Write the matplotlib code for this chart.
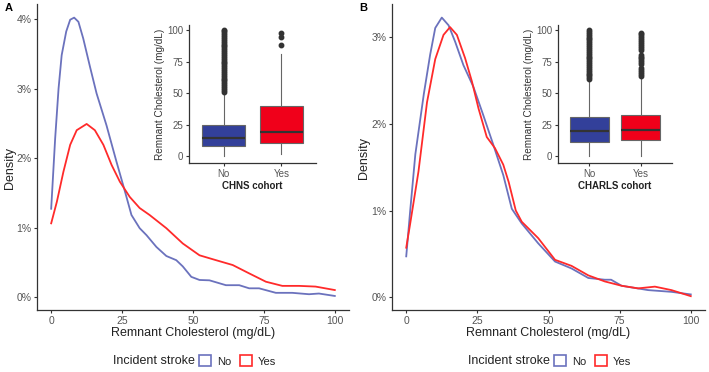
"""
Density of remnant cholesterol by incident stroke, CHNS vs CHARLS,
with an inset box plot for each cohort.
"""

import matplotlib
matplotlib.use("Agg")
import matplotlib.pyplot as plt
import matplotlib.patches as mpatches
from matplotlib.ticker import FuncFormatter

plt.rcParams["font.family"] = ["Liberation Sans", "DejaVu Sans"]

BLUE_LINE = "#6b72bd"
RED_LINE = "#ff2a2a"
BLUE_FILL = "#33409a"
RED_FILL = "#f0001a"
TICK_GREY = "#555555"

# ─── Density curves (x in mg/dL, y in %) ─────────────────────────────────────

a_no_x = [0, 1.4, 2.6, 3.7, 5.3, 6.7, 8.1, 9.6, 11.3, 13.7, 16.0, 19.5, 23.0, 26.0,
          28.3, 31.2, 33.6, 37.1, 40.6, 44.1, 46.4, 49.4, 52.3, 55.8, 61.6, 66.3,
          69.8, 73.3, 79.2, 85, 90.9, 94.4, 100]
a_no_y = [1.27, 2.28, 3.00, 3.48, 3.82, 3.99, 4.02, 3.96, 3.72, 3.31, 2.93, 2.47,
          1.95, 1.52, 1.18, 0.99, 0.89, 0.72, 0.59, 0.53, 0.44, 0.29, 0.245, 0.24,
          0.17, 0.17, 0.125, 0.125, 0.06, 0.06, 0.04, 0.05, 0.015]

a_yes_x = [0, 2.0, 4.3, 6.7, 9.0, 12.5, 15.4, 18.4, 21.3, 24.2, 27.7, 31.2, 34.7,
           40.6, 46.4, 52.3, 58.1, 64, 69.8, 75.7, 81.5, 87.4, 93.2, 100]
a_yes_y = [1.06, 1.37, 1.80, 2.19, 2.40, 2.49, 2.40, 2.19, 1.90, 1.66, 1.44, 1.28,
           1.18, 0.99, 0.77, 0.60, 0.53, 0.46, 0.34, 0.22, 0.16, 0.16, 0.15, 0.10]

b_no_x = [0, 1.4, 3.2, 6.2, 8.4, 10.2, 12.5, 14.9, 17.2, 20.1, 23.6, 27.1, 30.6,
          34.1, 37.1, 40.6, 46.4, 52.3, 58.1, 64, 69.8, 72, 75.7, 85, 93.2, 100]
b_no_y = [0.47, 1.00, 1.65, 2.35, 2.80, 3.11, 3.23, 3.14, 2.95, 2.68, 2.43, 2.10,
          1.76, 1.41, 1.02, 0.85, 0.62, 0.41, 0.33, 0.22, 0.20, 0.20, 0.13, 0.08,
          0.06, 0.03]

b_yes_x = [0, 1.4, 4.3, 7.3, 10.2, 13.1, 15.4, 17.8, 20.7, 23.1, 25.4, 28.3, 31.2,
           34.1, 36.0, 38.5, 40.6, 46.4, 52.3, 58.1, 64, 69.8, 75.7, 81.5, 87.4,
           93.2, 100]
b_yes_y = [0.57, 0.85, 1.45, 2.25, 2.75, 3.03, 3.12, 3.03, 2.76, 2.49, 2.18, 1.85,
           1.72, 1.53, 1.33, 1.00, 0.87, 0.68, 0.43, 0.36, 0.25, 0.18, 0.13, 0.10,
           0.12, 0.08, 0.01]

# ─── Box plot summaries (mg/dL) ──────────────────────────────────────────────

box_groups = ["No", "Yes"]

chns_q1 = [7.7, 10.3]
chns_med = [14.3, 19.0]
chns_q3 = [24.3, 39.7]
chns_lo = [0, 1.9]
chns_hi = [50.8, 81.2]
chns_no_out = [51, 52.5, 54, 55.5, 57, 58.5, 60, 61.5, 63, 64.5, 66, 67.5, 69, 70.5,
               72, 73.5, 75, 76.5, 78, 79.5, 81, 82.5, 84, 85.5, 87, 88.5, 90, 91.5,
               93, 94.5, 96, 97.5, 99, 100]
chns_yes_out = [88.4, 94.4, 97.6]

charls_q1 = [11.1, 12.5]
charls_med = [19.9, 20.7]
charls_q3 = [31.0, 32.6]
charls_lo = [0, 0]
charls_hi = [60.5, 63.1]
charls_no_out = [61, 62.5, 64, 65.5, 67, 68.5, 70, 71.5, 73, 74.5, 76, 77.5, 79,
                 80.5, 82, 83.5, 85, 86.5, 88, 89.5, 91, 92.5, 94, 95.5, 97, 98.5, 100]
charls_yes_out = [63.5, 65, 66.5, 68, 69.5, 73, 74.5, 76, 77.5, 79, 80.5, 84.5, 86,
                  87.5, 89, 90.5, 92, 93.5, 95, 96.5, 97.5]

x_ticks = [0, 25, 50, 75, 100]


def style_axis(ax, size):
    for side in ("top", "right"):
        ax.spines[side].set_visible(False)
    for side in ("left", "bottom"):
        ax.spines[side].set_color("#333333")
        ax.spines[side].set_linewidth(0.9)
    ax.tick_params(colors="#333333", labelcolor=TICK_GREY, labelsize=size,
                   length=2.5, width=0.8, pad=1.5)


def draw_density(ax, no_x, no_y, yes_x, yes_y, ylim, yticks):
    ax.plot(no_x, no_y, color=BLUE_LINE, lw=1.3, solid_joinstyle="round")
    ax.plot(yes_x, yes_y, color=RED_LINE, lw=1.3, solid_joinstyle="round")
    ax.set_xlim(-5, 105)
    ax.set_ylim(*ylim)
    ax.set_xticks(x_ticks)
    ax.set_yticks(yticks)
    ax.yaxis.set_major_formatter(FuncFormatter(lambda v, _: f"{v:.0f}%"))
    style_axis(ax, 7.5)


def draw_inset(ax, q1, med, q3, lo, hi, fliers, title):
    stats = []
    for i, name in enumerate(box_groups):
        stats.append({"label": name, "q1": q1[i], "med": med[i], "q3": q3[i],
                      "whislo": lo[i], "whishi": hi[i], "fliers": fliers[i]})
    bp = ax.bxp(stats, positions=[1, 2], widths=0.75, patch_artist=True,
                showcaps=False,
                boxprops=dict(edgecolor="#666666", linewidth=0.8),
                whiskerprops=dict(color="#666666", linewidth=0.8),
                medianprops=dict(color="#333333", linewidth=1.6),
                flierprops=dict(marker="o", markersize=3.2,
                                markerfacecolor="#333333",
                                markeredgecolor="#333333"))
    for patch, fc in zip(bp["boxes"], [BLUE_FILL, RED_FILL]):
        patch.set_facecolor(fc)
    ax.set_xlim(0.4, 2.6)
    ax.set_ylim(-5.5, 104)
    ax.set_yticks(x_ticks)
    style_axis(ax, 7)
    ax.set_ylabel("Remnant Cholesterol (mg/dL)", fontsize=7.2, color="#333333",
                  labelpad=2)
    ax.set_xlabel(title, fontsize=7, fontweight="bold", color="#222222",
                  labelpad=1.5)


fig = plt.figure(figsize=(7.09, 3.72), dpi=100)

ax_a = fig.add_axes([37 / 709, 62 / 372, 312 / 709, 306 / 372])
ax_b = fig.add_axes([392 / 709, 62 / 372, 313 / 709, 306 / 372])
in_a = fig.add_axes([189 / 709, 209 / 372, 127 / 709, 138 / 372])
in_b = fig.add_axes([558 / 709, 209 / 372, 114 / 709, 138 / 372])

draw_density(ax_a, a_no_x, a_no_y, a_yes_x, a_yes_y, (-0.187, 4.216), [0, 1, 2, 3, 4])
draw_density(ax_b, b_no_x, b_no_y, b_yes_x, b_yes_y, (-0.150, 3.387), [0, 1, 2, 3])

draw_inset(in_a, chns_q1, chns_med, chns_q3, chns_lo, chns_hi,
           [chns_no_out, chns_yes_out], "CHNS cohort")
draw_inset(in_b, charls_q1, charls_med, charls_q3, charls_lo, charls_hi,
           [charls_no_out, charls_yes_out], "CHARLS cohort")

# titles, labels and legends drawn per panel
for ax, letter, lx, dens_y in [(ax_a, "A", 5, 168), (ax_b, "B", 359, 158)]:
    x0 = ax.get_position().x0 * 709
    x1 = ax.get_position().x1 * 709
    fig.text(lx / 709, 1 - 8 / 372, letter, fontsize=8, fontweight="bold",
             ha="left", va="center")
    fig.text((lx + 5) / 709, 1 - dens_y / 372, "Density", rotation=90,
             fontsize=9, color="#222222", ha="center", va="center")
    fig.text((x0 + x1) / 2 / 709, 1 - 333 / 372, "Remnant Cholesterol (mg/dL)",
             fontsize=9, color="#222222", ha="center", va="center")
    fig.text((x0 + 76) / 709, 1 - 361 / 372, "Incident stroke", fontsize=9,
             color="#222222", ha="left", va="center")
    handles = [mpatches.Patch(facecolor="white", edgecolor=BLUE_LINE, lw=1.2,
                              label="No"),
               mpatches.Patch(facecolor="white", edgecolor=RED_LINE, lw=1.2,
                              label="Yes")]
    fig.legend(handles=handles, ncol=2, frameon=False, fontsize=8,
               loc="center left",
               bbox_to_anchor=((x0 + 162) / 709, 1 - 361 / 372),
               handlelength=1.1, handleheight=1.1, handletextpad=0.5,
               columnspacing=0.8, borderpad=0, borderaxespad=0,
               labelcolor="#222222")

fig.savefig("out.png", dpi=100)
